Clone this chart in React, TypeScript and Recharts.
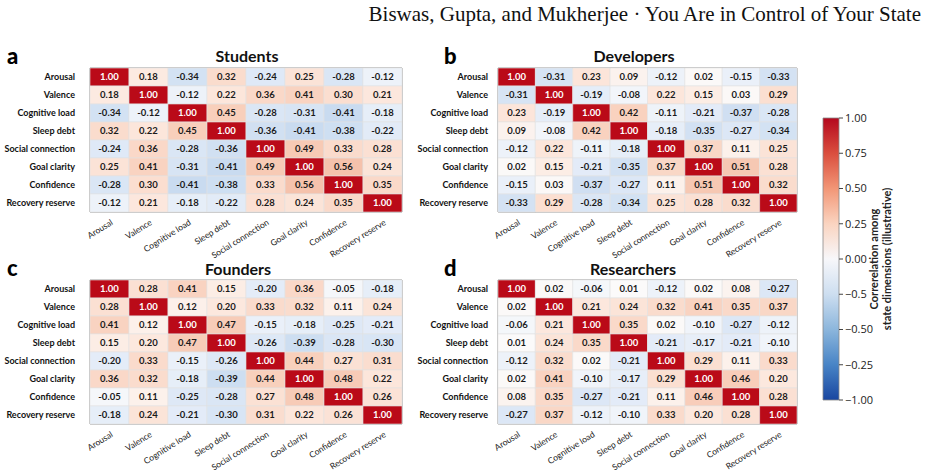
import { BarChart, Bar, XAxis, YAxis, Cell, LabelList, ReferenceArea, Label } from 'recharts'

const dims = ['Arousal', 'Valence', 'Cognitive load', 'Sleep debt', 'Social connection', 'Goal clarity', 'Confidence', 'Recovery reserve']

const students = [
  [1.0, 0.18, -0.34, 0.32, -0.24, 0.25, -0.28, -0.12],
  [0.18, 1.0, -0.12, 0.22, 0.36, 0.41, 0.3, 0.21],
  [-0.34, -0.12, 1.0, 0.45, -0.28, -0.31, -0.41, -0.18],
  [0.32, 0.22, 0.45, 1.0, -0.36, -0.41, -0.38, -0.22],
  [-0.24, 0.36, -0.28, -0.36, 1.0, 0.49, 0.33, 0.28],
  [0.25, 0.41, -0.31, -0.41, 0.49, 1.0, 0.56, 0.24],
  [-0.28, 0.3, -0.41, -0.38, 0.33, 0.56, 1.0, 0.35],
  [-0.12, 0.21, -0.18, -0.22, 0.28, 0.24, 0.35, 1.0],
]

const developers = [
  [1.0, -0.31, 0.23, 0.09, -0.12, 0.02, -0.15, -0.33],
  [-0.31, 1.0, -0.19, -0.08, 0.22, 0.15, 0.03, 0.29],
  [0.23, -0.19, 1.0, 0.42, -0.11, -0.21, -0.37, -0.28],
  [0.09, -0.08, 0.42, 1.0, -0.18, -0.35, -0.27, -0.34],
  [-0.12, 0.22, -0.11, -0.18, 1.0, 0.37, 0.11, 0.25],
  [0.02, 0.15, -0.21, -0.35, 0.37, 1.0, 0.51, 0.28],
  [-0.15, 0.03, -0.37, -0.27, 0.11, 0.51, 1.0, 0.32],
  [-0.33, 0.29, -0.28, -0.34, 0.25, 0.28, 0.32, 1.0],
]

const founders = [
  [1.0, 0.28, 0.41, 0.15, -0.2, 0.36, -0.05, -0.18],
  [0.28, 1.0, 0.12, 0.2, 0.33, 0.32, 0.11, 0.24],
  [0.41, 0.12, 1.0, 0.47, -0.15, -0.18, -0.25, -0.21],
  [0.15, 0.2, 0.47, 1.0, -0.26, -0.39, -0.28, -0.3],
  [-0.2, 0.33, -0.15, -0.26, 1.0, 0.44, 0.27, 0.31],
  [0.36, 0.32, -0.18, -0.39, 0.44, 1.0, 0.48, 0.22],
  [-0.05, 0.11, -0.25, -0.28, 0.27, 0.48, 1.0, 0.26],
  [-0.18, 0.24, -0.21, -0.3, 0.31, 0.22, 0.26, 1.0],
]

const researchers = [
  [1.0, 0.02, -0.06, 0.01, -0.12, 0.02, 0.08, -0.27],
  [0.02, 1.0, 0.21, 0.24, 0.32, 0.41, 0.35, 0.37],
  [-0.06, 0.21, 1.0, 0.35, 0.02, -0.1, -0.27, -0.12],
  [0.01, 0.24, 0.35, 1.0, -0.21, -0.17, -0.21, -0.1],
  [-0.12, 0.32, 0.02, -0.21, 1.0, 0.29, 0.11, 0.33],
  [0.02, 0.41, -0.1, -0.17, 0.29, 1.0, 0.46, 0.2],
  [0.08, 0.35, -0.27, -0.21, 0.11, 0.46, 1.0, 0.28],
  [-0.27, 0.37, -0.12, -0.1, 0.33, 0.2, 0.28, 1.0],
]

const cbTicks = [-1, -0.75, -0.5, -0.25, 0, 0.25, 0.5, 0.75, 1]
const cbLabels = ['−1.00', '−0.25', '−0.50', '−0.5', '0.00', '0.25', '0.50', '0.75', '1.00']

const FONT = 'Lato, "Open Sans", sans-serif'

// cell colour stops (value -> rgb), lighter than the colourbar
const cellStops: [number, number[]][] = [
  [-1, [40, 90, 170]],
  [-0.4, [204, 221, 241]],
  [-0.2, [228, 236, 248]],
  [0, [251, 251, 251]],
  [0.2, [252, 232, 222]],
  [0.4, [249, 212, 194]],
  [0.6, [244, 190, 166]],
  [1, [186, 10, 24]],
]

function cellColor(v: number) {
  for (let i = 1; i < cellStops.length; i++) {
    const [v1, c1] = cellStops[i]
    const [v0, c0] = cellStops[i - 1]
    if (v <= v1) {
      const t = (v - v0) / (v1 - v0)
      const c = c0.map((a, k) => Math.round(a + (c1[k] - a) * t))
      return `rgb(${c[0]},${c[1]},${c[2]})`
    }
  }
  return 'rgb(186,10,24)'
}

const CellText = (props: any) => {
  const vb = props.viewBox || props
  const { x, y, width, height } = vb
  const v = Number(props.value)
  return (
    <text
      x={x + width / 2}
      y={y + height / 2}
      dy="0.35em"
      textAnchor="middle"
      fontFamily={FONT}
      fontWeight={700}
      fontSize={9.5}
      fill={v >= 0.99 ? '#fff' : '#1a1a1a'}
    >
      {v.toFixed(2)}
    </text>
  )
}

const ColTick = (props: any) => {
  const { x, y, payload } = props
  const label = dims[Math.floor(payload.value)]
  return (
    <g transform={`translate(${x + 4},${y + 10})`}>
      <text textAnchor="end" transform="rotate(-32)" fontFamily={FONT} fontSize={8.5} fill="#222">
        {label}
      </text>
    </g>
  )
}

const RowTick = (props: any) => {
  const { x, y, payload } = props
  return (
    <text x={x} y={y} dy="0.35em" textAnchor="end" fontFamily={FONT} fontWeight={700} fontSize={9} fill="#111">
      {payload.value}
    </text>
  )
}

function Heatmap({ matrix, left, top, width, yw, gap }: { matrix: number[][]; left: number; top: number; width: number; yw: number; gap: number }) {
  const rows = dims.map((name, i) => {
    const r: any = { name }
    matrix[i].forEach((v, j) => {
      r['u' + j] = 1
      r['v' + j] = v
    })
    return r
  })
  return (
    <div style={{ position: 'absolute', left, top }}>
      <BarChart
        width={width}
        height={232}
        data={rows}
        layout="vertical"
        barCategoryGap={0}
        barGap={0}
        margin={{ top: 28, right: 18, bottom: 0, left: 0 }}
      >
        <XAxis
          type="number"
          domain={[0, 8]}
          ticks={[0.5, 1.5, 2.5, 3.5, 4.5, 5.5, 6.5, 7.5]}
          interval={0}
          tick={<ColTick />}
          tickLine={false}
          axisLine={false}
          tickSize={0}
          height={60}
        />
        <YAxis
          type="category"
          dataKey="name"
          width={yw}
          tickLine={false}
          axisLine={false}
          tickSize={0}
          tickMargin={gap}
          interval={0}
          tick={<RowTick />}
        />
        {dims.map((_, j) => (
          <Bar key={j} dataKey={'u' + j} stackId="s" isAnimationActive={false}>
            {rows.map((r, i) => (
              <Cell key={i} fill={cellColor(matrix[i][j])} stroke="#e2e2e2" strokeWidth={0.6} />
            ))}
            <LabelList dataKey={'v' + j} content={<CellText />} />
          </Bar>
        ))}
        <ReferenceArea x1={0} x2={8} y1={dims[0]} y2={dims[7]} fill="none" stroke="#8a8a8a" strokeWidth={1} ifOverflow="visible" />
      </BarChart>
    </div>
  )
}

const CbLabel = (props: any) => {
  const { x, y, height } = props.viewBox
  const cy = y + height / 2
  return (
    <g fontFamily={FONT} fontWeight={700} fontSize={11} fill="#222">
      <text transform={`translate(${x + 39},${cy}) rotate(-90)`} textAnchor="middle">
        Correrelation among
      </text>
      <text transform={`translate(${x + 52},${cy}) rotate(-90)`} textAnchor="middle">
        state dimensions (illustrative)
      </text>
    </g>
  )
}

function ColorBar() {
  return (
    <div style={{ position: 'absolute', left: 800, top: 100 }}>
      <svg width={0} height={0} style={{ position: 'absolute' }}>
        <defs>
          <linearGradient id="cbGrad" x1="0" y1="0" x2="0" y2="1">
            <stop offset="0%" stopColor="rgb(180,8,30)" />
            <stop offset="12.5%" stopColor="rgb(218,78,62)" />
            <stop offset="25%" stopColor="rgb(242,150,118)" />
            <stop offset="37.5%" stopColor="rgb(250,212,192)" />
            <stop offset="50%" stopColor="rgb(247,247,250)" />
            <stop offset="62.5%" stopColor="rgb(205,222,240)" />
            <stop offset="75%" stopColor="rgb(140,182,220)" />
            <stop offset="87.5%" stopColor="rgb(72,132,198)" />
            <stop offset="100%" stopColor="rgb(25,70,160)" />
          </linearGradient>
        </defs>
      </svg>
      <BarChart
        width={120}
        height={312}
        data={[{ name: 'cb', range: [-1, 1] }]}
        barCategoryGap={0}
        margin={{ top: 18, right: 0, bottom: 12, left: 23 }}
      >
        <XAxis dataKey="name" hide />
        <YAxis
          orientation="right"
          type="number"
          domain={[-1, 1]}
          ticks={cbTicks}
          interval={0}
          width={81}
          axisLine={false}
          tickSize={4}
          tickMargin={2}
          tickLine={{ stroke: '#444' }}
          tickFormatter={(v: number) => cbLabels[cbTicks.indexOf(v)]}
          tick={{ fontFamily: '"Open Sans", sans-serif', fontSize: 11, fill: '#222' }}
        >
          <Label content={<CbLabel />} />
        </YAxis>
        <Bar dataKey="range" fill="url(#cbGrad)" stroke="#888" strokeWidth={0.8} isAnimationActive={false} />
      </BarChart>
    </div>
  )
}

const letterStyle: any = { position: 'absolute', fontFamily: FONT, fontWeight: 900, fontSize: 22, lineHeight: '22px' }
const titleStyle: any = { position: 'absolute', fontFamily: FONT, fontWeight: 700, fontSize: 16, lineHeight: '16px', transform: 'translateX(-50%)', whiteSpace: 'nowrap', color: '#111' }

export default function App() {
  return (
    <div style={{ position: 'absolute', left: 0, top: 0, width: 929, height: 475, background: '#fff', overflow: 'hidden' }}>
      <div
        style={{
          position: 'absolute',
          right: 8,
          top: 4,
          fontFamily: '"Liberation Serif", "Times New Roman", serif',
          fontSize: 21,
          lineHeight: '21px',
          color: '#111',
          whiteSpace: 'nowrap',
        }}
      >
        Biswas, Gupta, and Mukherjee · You Are in Control of Your State
      </div>

      <Heatmap matrix={students} left={0} top={40} width={420} yw={90} gap={15} />
      <Heatmap matrix={developers} left={400} top={40} width={415} yw={98} gap={10} />
      <Heatmap matrix={founders} left={0} top={252} width={420} yw={90} gap={15} />
      <Heatmap matrix={researchers} left={400} top={252} width={415} yw={98} gap={10} />

      <div style={{ ...letterStyle, left: 7, top: 45 }}>a</div>
      <div style={{ ...letterStyle, left: 444, top: 45 }}>b</div>
      <div style={{ ...letterStyle, left: 7, top: 257 }}>c</div>
      <div style={{ ...letterStyle, left: 444, top: 257 }}>d</div>

      <div style={{ ...titleStyle, left: 247, top: 48 }}>Students</div>
      <div style={{ ...titleStyle, left: 634, top: 48 }}>Developers</div>
      <div style={{ ...titleStyle, left: 238, top: 261 }}>Founders</div>
      <div style={{ ...titleStyle, left: 633, top: 261 }}>Researchers</div>

      <ColorBar />
    </div>
  )
}
